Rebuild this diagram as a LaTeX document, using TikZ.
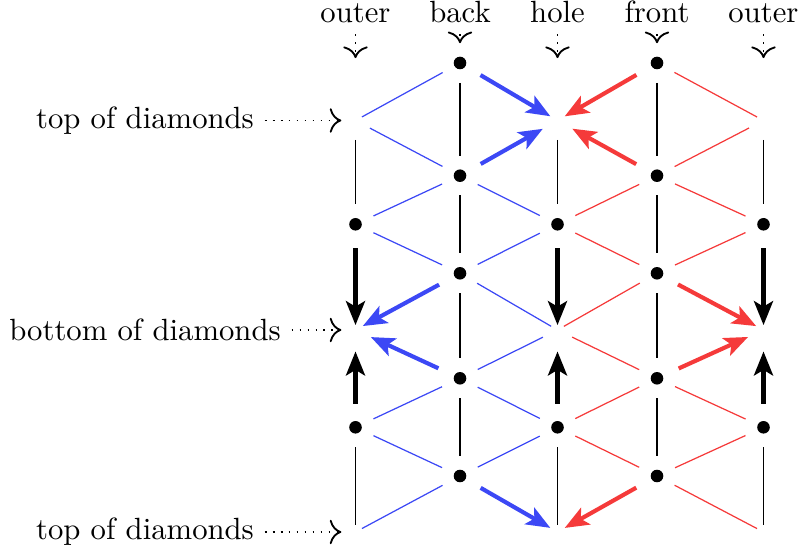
\documentclass[tikz,border=0pt]{standalone}
\usetikzlibrary{arrows.meta}
\definecolor{bl}{RGB}{60,72,245}
\definecolor{rd}{RGB}{245,58,58}
\begin{document}
\begin{tikzpicture}[x=0.3257pt,y=-0.3257pt,
  dotn/.style={circle,fill=black,inner sep=0pt,minimum size=4.1pt,outer sep=4.4pt},
  lab/.style={inner sep=3.333pt},
  ptr/.style={line width=0.6pt,dotted,-{Computer Modern Rightarrow[scale=1.3]}},
  tk/.style={line width=1.35pt,-{Stealth[length=7.8pt,width=6.2pt,inset=1.8pt]},shorten <=1.3pt},
  thinv/.style={line width=0.45pt},
  endA/.style={shorten >=2.4pt},
  endB/.style={shorten >=5.5pt},
  endV/.style={shorten >=7pt},
  begA/.style={shorten <=2.4pt},
  begB/.style={shorten <=5.3pt},
  begV/.style={shorten <=6.3pt}
]
\path[use as bounding box] (0,0) rectangle (801,554);

% empty positions and dots
\foreach \n/\x in {L/355.5,H/557.5,R/763.5}{
  \coordinate (\n0) at (\x,63);
  \coordinate (\n1) at (\x,120.5);
  \node[dotn] (\n3) at (\x,224.3) {};
  \coordinate (\n5) at (\x,330);
  \node[dotn] (\n7) at (\x,427.3) {};
  \coordinate (\n9) at (\x,532);
}
\foreach \n/\x in {B/460,F/657}{
  \node[dotn] (\n0) at (\x,63) {};
  \node[dotn] (\n2) at (\x,175.7) {};
  \node[dotn] (\n4) at (\x,273.3) {};
  \node[dotn] (\n6) at (\x,378.3) {};
  \node[dotn] (\n8) at (\x,476) {};
}

% labels
\node[lab,anchor=base] (tl1) at (355.5,23) {outer};
\node[lab,anchor=base] (tl2) at (460,23) {back};
\node[lab,anchor=base] (tl3) at (557.5,23) {hole};
\node[lab,anchor=base] (tl4) at (657,23) {front};
\node[lab,anchor=base] (tl5) at (763.5,23) {outer};
\node[lab] (lt1) at (145,120.5) {top of diamonds};
\node[lab] (lt2) at (145,330) {bottom of diamonds};
\node[lab] (lt3) at (145,532) {top of diamonds};

\draw[ptr,shorten >=1.6pt] (tl1) -- (L0);
\draw[ptr] (tl2) -- (B0);
\draw[ptr,shorten >=1.6pt] (tl3) -- (H0);
\draw[ptr] (tl4) -- (F0);
\draw[ptr,shorten >=1.6pt] (tl5) -- (R0);
\draw[ptr,shorten >=4.6pt] (lt1) -- (L1);
\draw[ptr,shorten >=4.6pt] (lt2) -- (L5);
\draw[ptr,shorten >=4.6pt] (lt3) -- (L9);

% black verticals
\foreach \n in {B,F}{
  \draw[thinv] (\n0) -- (\n2);
  \draw[thinv] (\n2) -- (\n4);
  \draw[thinv] (\n4) -- (\n6);
  \draw[thinv] (\n6) -- (\n8);
}
\foreach \n in {L,H,R}{
  \draw[thinv,begV] (\n1) -- (\n3);
  \draw[thinv,endA] (\n7) -- (\n9);
  \draw[tk,shorten >=1.6pt] (\n3) -- (\n5);
  \draw[tk,endV] (\n7) -- (\n5);
}

% blue thin
\draw[bl,begA] (L1) -- (B0);
\draw[bl,begB] (L1) -- (B2);
\draw[bl] (B2) -- (L3);
\draw[bl] (L3) -- (B4);
\draw[bl] (L7) -- (B6);
\draw[bl] (L7) -- (B8);
\draw[bl,endA] (B8) -- (L9);
\draw[bl] (B2) -- (H3);
\draw[bl] (H3) -- (B4);
\draw[bl,endA] (B4) -- (H5);
\draw[bl,begB] (H5) -- (B6);
\draw[bl] (B6) -- (H7);
\draw[bl] (H7) -- (B8);

% red thin
\draw[rd,begA] (R1) -- (F0);
\draw[rd,begB] (R1) -- (F2);
\draw[rd] (F2) -- (R3);
\draw[rd] (R3) -- (F4);
\draw[rd] (R7) -- (F6);
\draw[rd] (R7) -- (F8);
\draw[rd,endA] (F8) -- (R9);
\draw[rd] (F2) -- (H3);
\draw[rd] (H3) -- (F4);
\draw[rd,endA] (F4) -- (H5);
\draw[rd,begB] (H5) -- (F6);
\draw[rd] (F6) -- (H7);
\draw[rd] (H7) -- (F8);

% thick blue arrows
\draw[tk,bl,shorten >=2.7pt] (B0) -- (H1);
\draw[tk,bl,endB] (B2) -- (H1);
\draw[tk,bl,shorten >=2.7pt] (B4) -- (L5);
\draw[tk,bl,endB] (B6) -- (L5);
\draw[tk,bl,shorten >=2.7pt] (B8) -- (H9);

% thick red arrows
\draw[tk,rd,shorten >=2.7pt] (F0) -- (H1);
\draw[tk,rd,endB] (F2) -- (H1);
\draw[tk,rd,shorten >=2.7pt] (F4) -- (R5);
\draw[tk,rd,endB] (F6) -- (R5);
\draw[tk,rd,shorten >=2.7pt] (F8) -- (H9);
\end{tikzpicture}
\end{document}
